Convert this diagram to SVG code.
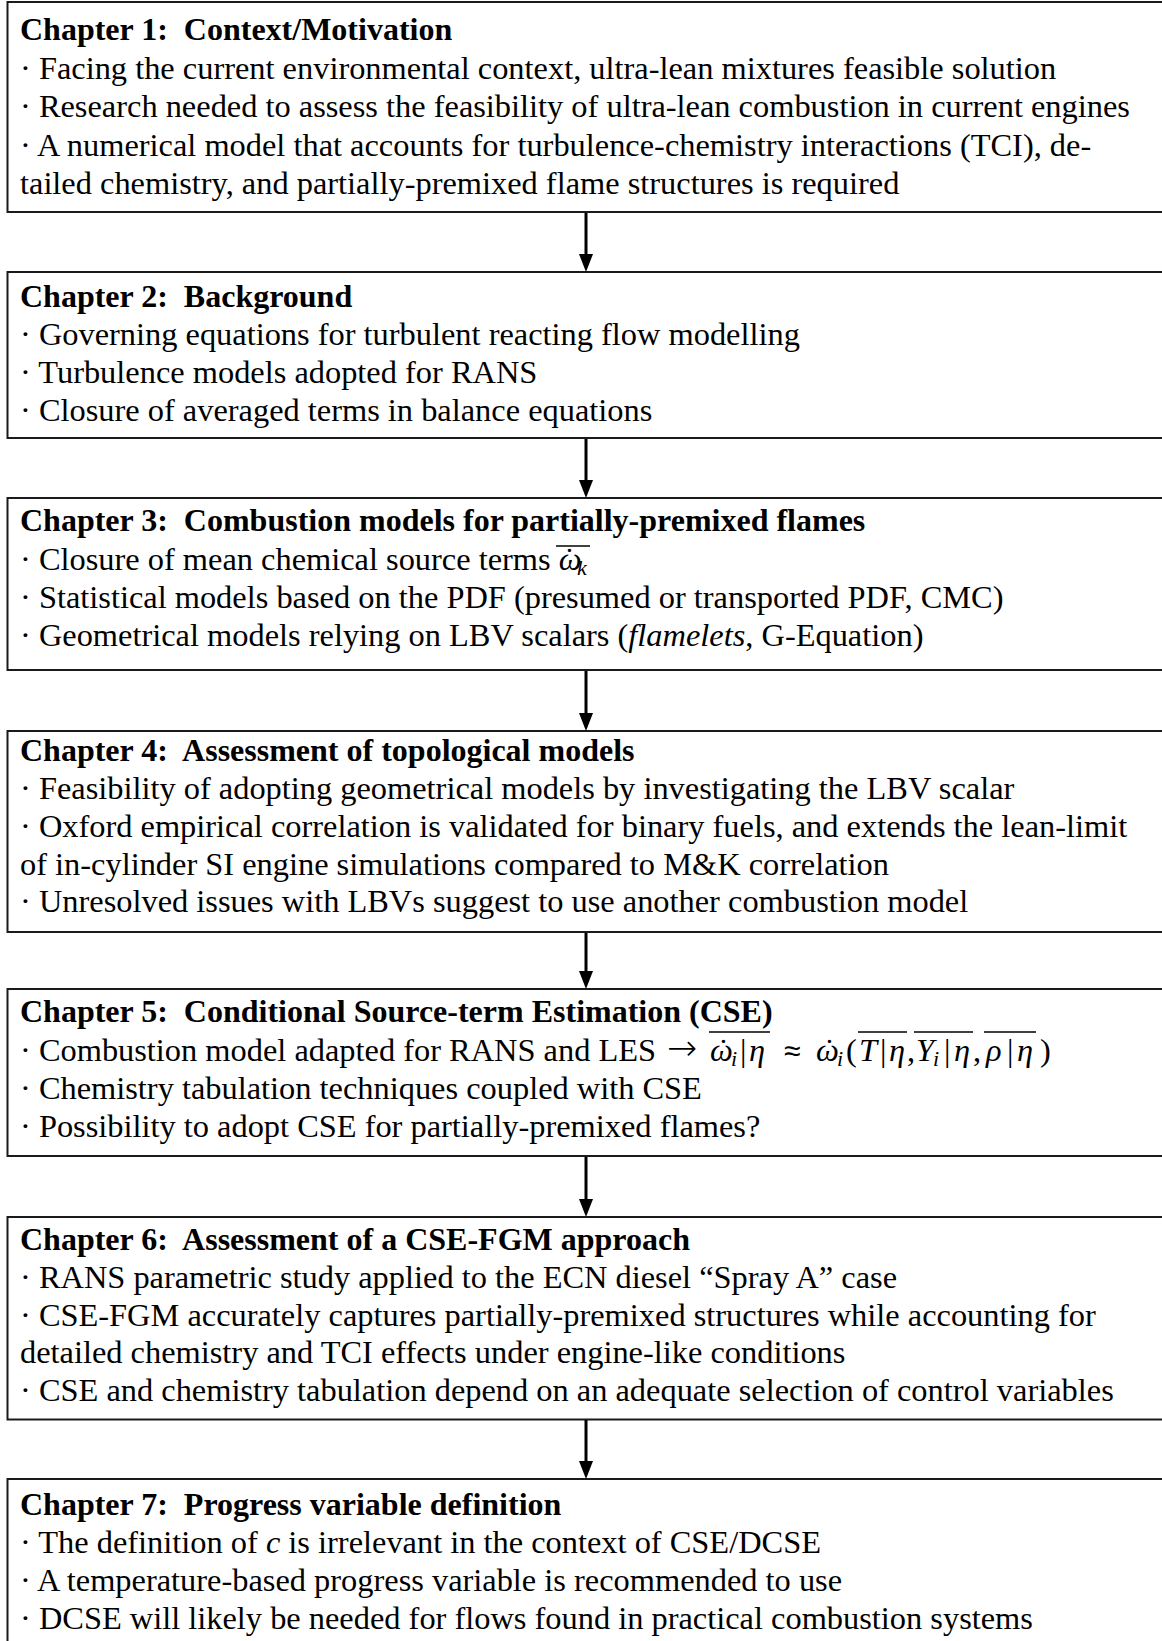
<svg xmlns="http://www.w3.org/2000/svg" width="1162" height="1641" viewBox="0 0 1162 1641">
  <style>
    .box { fill: #ffffff; stroke: #1a1a1a; stroke-width: 2; }
    .t { font-family: "Liberation Serif", "Times New Roman", serif; font-size: 32.4px; fill: #000; }
    .h { font-weight: bold; font-size: 32px; }
    .it { font-style: italic; }
    .sub { font-size: 22px; font-style: italic; }
    .arr { font-family: "DejaVu Sans", sans-serif; font-size: 36px; font-weight: 200; fill: #000; }
    .rel { font-family: "DejaVu Sans", sans-serif; font-size: 30px; font-weight: 200; }
    .ol { stroke: #000; stroke-width: 1.4; }
    .conn { stroke: #000; stroke-width: 3; fill: none; }
    .head { fill: #000; }
  </style>
  <rect width="1162" height="1641" fill="#ffffff"/>

  <!-- Chapter 1 -->
  <g id="ch1">
    <rect class="box" x="7.5" y="2" width="1170" height="210"/>
    <text class="t h" x="20" y="40">Chapter 1:&#160; Context/Motivation</text>
    <text class="t" x="20" y="79">· Facing the current environmental context, ultra-lean mixtures feasible solution</text>
    <text class="t" x="20" y="117">· Research needed to assess the feasibility of ultra-lean combustion in current engines</text>
    <text class="t" x="20" y="156">· A numerical model that accounts for turbulence-chemistry interactions (TCI), de-</text>
    <text class="t" x="20" y="194">tailed chemistry, and partially-premixed flame structures is required</text>
  </g>

  <!-- Chapter 2 -->
  <g id="ch2">
    <rect class="box" x="7.5" y="272" width="1170" height="166"/>
    <text class="t h" x="20" y="307">Chapter 2:&#160; Background</text>
    <text class="t" x="20" y="345">· Governing equations for turbulent reacting flow modelling</text>
    <text class="t" x="20" y="383">· Turbulence models adopted for RANS</text>
    <text class="t" x="20" y="420.5">· Closure of averaged terms in balance equations</text>
  </g>

  <!-- Chapter 3 -->
  <g id="ch3">
    <rect class="box" x="7.5" y="498" width="1170" height="172"/>
    <text class="t h" x="20" y="531">Chapter 3:&#160; Combustion models for partially-premixed flames</text>
    <text class="t" x="20" y="570">· Closure of mean chemical source terms <tspan class="it">ω</tspan><tspan x="564">˙</tspan><tspan class="sub" x="577" y="575">k</tspan></text>
    <!-- bar of the mean source term -->
    <line class="ol" x1="556" y1="546" x2="590" y2="546"/>
    <text class="t" x="20" y="608">· Statistical models based on the PDF (presumed or transported PDF, CMC)</text>
    <text class="t" x="20" y="645.5">· Geometrical models relying on LBV scalars (<tspan class="it">flamelets</tspan>, G-Equation)</text>
  </g>

  <!-- Chapter 4 -->
  <g id="ch4">
    <rect class="box" x="7.5" y="731" width="1170" height="201"/>
    <text class="t h" x="20" y="761">Chapter 4:&#160; Assessment of topological models</text>
    <text class="t" x="20" y="799">· Feasibility of adopting geometrical models by investigating the LBV scalar</text>
    <text class="t" x="20" y="837">· Oxford empirical correlation is validated for binary fuels, and extends the lean-limit</text>
    <text class="t" x="20" y="875">of in-cylinder SI engine simulations compared to M&amp;K correlation</text>
    <text class="t" x="20" y="912">· Unresolved issues with LBVs suggest to use another combustion model</text>
  </g>

  <!-- Chapter 5 -->
  <g id="ch5">
    <rect class="box" x="7.5" y="989" width="1170" height="167"/>
    <text class="t h" x="20" y="1022">Chapter 5:&#160; Conditional Source-term Estimation (CSE)</text>
    <text class="t" x="20" y="1061">· Combustion model adapted for RANS and LES</text>
    <text class="arr" x="667" y="1060">→</text>
    <!-- conditional mean closure: bar(w_i|eta) ~ w_i(bar(T|eta), bar(Y_i|eta), bar(rho|eta)) -->
    <text class="t"><tspan class="it" x="710" y="1061">ω</tspan><tspan x="718" y="1061">˙</tspan><tspan class="sub" x="731" y="1066">i</tspan><tspan x="740" y="1061">|</tspan><tspan class="it" x="749" y="1061">η</tspan><tspan class="rel" x="784" y="1061">≈</tspan><tspan class="it" x="816" y="1061">ω</tspan><tspan x="824" y="1061">˙</tspan><tspan class="sub" x="837" y="1066">i</tspan><tspan x="846" y="1061">(</tspan><tspan class="it" x="859" y="1061">T</tspan><tspan x="880" y="1061">|</tspan><tspan class="it" x="889" y="1061">η</tspan><tspan x="907" y="1061">,</tspan><tspan class="it" x="916" y="1061">Y</tspan><tspan class="sub" x="933" y="1066">i</tspan><tspan x="944" y="1061">|</tspan><tspan class="it" x="954" y="1061">η</tspan><tspan x="973" y="1061">,</tspan><tspan class="it" x="986" y="1061">ρ</tspan><tspan x="1007" y="1061">|</tspan><tspan class="it" x="1017" y="1061">η</tspan><tspan x="1040" y="1061">)</tspan></text>
    <line class="ol" x1="709" y1="1032" x2="770" y2="1032"/>
    <line class="ol" x1="858" y1="1032" x2="907" y2="1032"/>
    <line class="ol" x1="914" y1="1032" x2="973" y2="1032"/>
    <line class="ol" x1="984" y1="1032" x2="1036" y2="1032"/>
    <text class="t" x="20" y="1099">· Chemistry tabulation techniques coupled with CSE</text>
    <text class="t" x="20" y="1136.5">· Possibility to adopt CSE for partially-premixed flames?</text>
  </g>

  <!-- Chapter 6 -->
  <g id="ch6">
    <rect class="box" x="7.5" y="1217" width="1170" height="202.5"/>
    <text class="t h" x="20" y="1250">Chapter 6:&#160; Assessment of a CSE-FGM approach</text>
    <text class="t" x="20" y="1288">· RANS parametric study applied to the ECN diesel “Spray A” case</text>
    <text class="t" x="20" y="1325.5">· CSE-FGM accurately captures partially-premixed structures while accounting for</text>
    <text class="t" x="20" y="1363">detailed chemistry and TCI effects under engine-like conditions</text>
    <text class="t" x="20" y="1401">· CSE and chemistry tabulation depend on an adequate selection of control variables</text>
  </g>

  <!-- Chapter 7 -->
  <g id="ch7">
    <rect class="box" x="7.5" y="1479" width="1170" height="180"/>
    <text class="t h" x="20" y="1514.5">Chapter 7:&#160; Progress variable definition</text>
    <text class="t" x="20" y="1553">· The definition of <tspan class="it">c</tspan> is irrelevant in the context of CSE/DCSE</text>
    <text class="t" x="20" y="1591">· A temperature-based progress variable is recommended to use</text>
    <text class="t" x="20" y="1629">· DCSE will likely be needed for flows found in practical combustion systems</text>
  </g>

  <!-- Connectors between chapters -->
  <g id="connectors">
    <line class="conn" x1="586" y1="213" x2="586" y2="255"/>
    <polygon class="head" points="579,254 593,254 586,272"/>
    <line class="conn" x1="586" y1="439" x2="586" y2="481"/>
    <polygon class="head" points="579,480 593,480 586,498"/>
    <line class="conn" x1="586" y1="671" x2="586" y2="714"/>
    <polygon class="head" points="579,713 593,713 586,731"/>
    <line class="conn" x1="586" y1="933" x2="586" y2="972"/>
    <polygon class="head" points="579,971 593,971 586,989"/>
    <line class="conn" x1="586" y1="1157" x2="586" y2="1200"/>
    <polygon class="head" points="579,1199 593,1199 586,1217"/>
    <line class="conn" x1="586" y1="1420" x2="586" y2="1462"/>
    <polygon class="head" points="579,1461 593,1461 586,1479"/>
  </g>
</svg>
